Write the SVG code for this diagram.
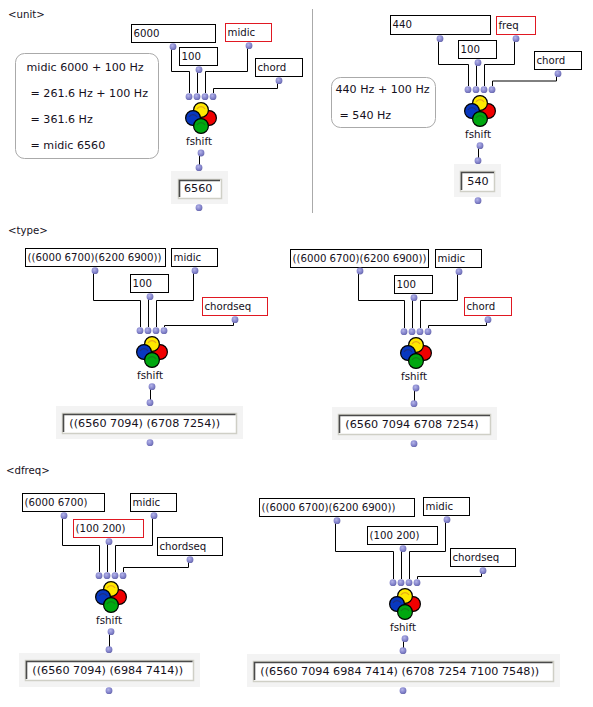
<svg xmlns="http://www.w3.org/2000/svg" width="593" height="707" viewBox="0 0 593 707">
<style>
text{font-family:"DejaVu Sans","Liberation Sans",sans-serif;fill:#15101c}
.t{font-size:10.2px}
.c{font-size:11.1px}
.o{font-size:11.2px}
.f{font-size:10.3px;text-anchor:middle}
.b{fill:#fff;stroke:#000;stroke-width:1}
.r{fill:#fff;stroke:#e01822;stroke-width:1}
.p{fill:#f3f3f3}
.io{fill:#fff;stroke:#cfcfc6;stroke-width:1.5}
.ii{fill:none;stroke:#4a4a4a;stroke-width:1.6}
.w{fill:none;stroke:#000;stroke-width:1}
.cm{fill:#fff;stroke:#aaa;stroke-width:1}
</style>
<defs>
<radialGradient id="dg" cx="0.4" cy="0.35" r="0.7"><stop offset="0" stop-color="#b4b4e8"/><stop offset="0.6" stop-color="#8484cc"/><stop offset="1" stop-color="#6464a8"/></radialGradient>
<g id="dot"><circle r="3.4" fill="url(#dg)"/></g>
<g id="icon" stroke="#000" stroke-width="1.2">
<circle cx="8" cy="0" r="7.4" fill="#f00000"/>
<circle cx="0" cy="-8" r="7.4" fill="#ffe800"/>
<path d="M-4-9a4.500 4.500 0 0 1 8 0" fill="none" stroke="#e8a818"/>
<circle cx="-8" cy="0" r="7.4" fill="#0838c0"/>
<path d="M-12-1a4.500 4.500 0 0 1 8 0" fill="none" stroke="#1c2f80"/>
<circle cx="0" cy="8" r="7.4" fill="#00a810"/>
<path d="M-4 7a4.500 4.500 0 0 1 8 0" fill="none" stroke="#108018"/>
</g>
</defs>
<rect width="593" height="707" fill="#fff"/>
<text class="t" x="8" y="17.5">&lt;unit&gt;</text>
<text class="t" x="8" y="234">&lt;type&gt;</text>
<text class="t" x="6" y="473.5">&lt;dfreq&gt;</text>
<line x1="312.5" y1="9" x2="312.5" y2="213" stroke="#aaa"/>

<g id="connectors">
<path class="w" d="M171.500 46V71.500H189.500V93M197.500 70V93M247.500 46V71.500H205.500V93M277.500 81V88.500H213.500V93M199.500 153V165"/>
<path class="w" d="M438.500 39V64.500H468.500V86M476.500 63V86M514.500 39V64.500H484.500V86M556.500 74V81H492.500V86M478.500 146V158"/>
<path class="w" d="M93.500 271V300.500H140.500V327M148.500 297V327M193.500 271V300.500H156.500V327M233.500 320V325.500H164.500V327M150.500 387V400"/>
<path class="w" d="M358.500 271V300.500H404.500V328M412.500 298V328M457.500 272V300.500H420.500V328M486.500 320V325.500H428.500V328M414.500 388V401"/>
<path class="w" d="M62.500 516V545.500H99.500V572M107.500 542V572M152.500 516V545.500H115.500V572M188.500 560V567.500H123.500V572M109.500 632V647"/>
<path class="w" d="M335.500 521V551.500H393.500V579M401.500 549V579M445.500 520V551.500H409.500V579M481.500 571V576.500H417.500V579M403.500 639V648"/>
</g>

<g id="comment-unit-midic">
<rect class="cm" x="15.500" y="53.500" width="143" height="105" rx="9"/>
<text class="c" x="26.500" y="71">midic 6000 + 100 Hz</text>
<text class="c" x="30.500" y="97">= 261.6 Hz + 100 Hz</text>
<text class="c" x="30.500" y="123">= 361.6 Hz</text>
<text class="c" x="30.500" y="149">= midic 6560</text>
</g>
<g id="comment-unit-freq">
<rect class="cm" x="331.500" y="77.500" width="104" height="50" rx="9"/>
<text class="c" x="335.500" y="93">440 Hz + 100 Hz</text>
<text class="c" x="339.500" y="119">= 540 Hz</text>
</g>

<g id="unit1-pitch"><rect class="b" x="131.500" y="24.500" width="84" height="18"/><text class="t" x="133.500" y="37">6000</text><use href="#dot" x="173" y="46.700"/></g>
<g id="unit1-dfreq"><rect class="b" x="179.500" y="47.500" width="38" height="18"/><text class="t" x="181.500" y="60">100</text><use href="#dot" x="199" y="69.700"/></g>
<g id="unit1-unit"><rect class="r" x="225.500" y="23.500" width="46" height="18"/><text class="t" x="227.500" y="36">midic</text><use href="#dot" x="249" y="45.700"/></g>
<g id="unit1-type"><rect class="b" x="255.500" y="58.500" width="47" height="18"/><text class="t" x="257.500" y="71">chord</text><use href="#dot" x="279" y="80.700"/></g>
<g id="unit1-fshift"><use href="#dot" x="189" y="96.700"/><use href="#dot" x="197" y="96.700"/><use href="#dot" x="205" y="96.700"/><use href="#dot" x="213" y="96.700"/><use href="#icon" x="201" y="118"/><text class="f" x="199" y="145">fshift</text><use href="#dot" x="201" y="153"/></g>
<g id="unit1-result"><use href="#dot" x="199" y="167.700"/><rect class="p" x="171" y="171" width="57" height="33"/><rect class="io" x="178.500" y="179.500" width="43" height="19"/><path class="ii" d="M179.500 197V180.500H220"/><text class="o" x="184" y="192">6560</text><use href="#dot" x="199" y="207.700"/></g>

<g id="unit2-pitch"><rect class="b" x="390.500" y="15.500" width="100" height="19"/><text class="t" x="392.500" y="28">440</text><use href="#dot" x="440" y="38.700"/></g>
<g id="unit2-dfreq"><rect class="b" x="458.500" y="40.500" width="38" height="18"/><text class="t" x="460.500" y="53">100</text><use href="#dot" x="478" y="62.700"/></g>
<g id="unit2-unit"><rect class="r" x="496.500" y="16.500" width="39" height="18"/><text class="t" x="498.500" y="29">freq</text><use href="#dot" x="516" y="38.700"/></g>
<g id="unit2-type"><rect class="b" x="534.500" y="51.500" width="47" height="18"/><text class="t" x="536.500" y="64">chord</text><use href="#dot" x="558" y="73.700"/></g>
<g id="unit2-fshift"><use href="#dot" x="468" y="89.700"/><use href="#dot" x="476" y="89.700"/><use href="#dot" x="484" y="89.700"/><use href="#dot" x="492" y="89.700"/><use href="#icon" x="480" y="111"/><text class="f" x="478" y="138">fshift</text><use href="#dot" x="480" y="145.700"/></g>
<g id="unit2-result"><use href="#dot" x="478" y="160.700"/><rect class="p" x="454" y="164" width="47" height="33"/><rect class="io" x="460.500" y="171.500" width="34" height="20"/><path class="ii" d="M461.500 190V172.500H494"/><text class="o" x="467.300" y="185">540</text><use href="#dot" x="478" y="200.700"/></g>

<g id="type1-pitch"><rect class="b" x="25.500" y="248.500" width="140" height="18"/><text class="t" x="27.500" y="261">((6000 6700)(6200 6900))</text><use href="#dot" x="95" y="270.700"/></g>
<g id="type1-dfreq"><rect class="b" x="130.500" y="274.500" width="38" height="18"/><text class="t" x="132.500" y="287">100</text><use href="#dot" x="150" y="296.700"/></g>
<g id="type1-unit"><rect class="b" x="171.500" y="248.500" width="46" height="18"/><text class="t" x="173.500" y="261">midic</text><use href="#dot" x="195" y="270.700"/></g>
<g id="type1-type"><rect class="r" x="202.500" y="297.500" width="65" height="18"/><text class="t" x="204.500" y="310">chordseq</text><use href="#dot" x="235" y="319.700"/></g>
<g id="type1-fshift"><use href="#dot" x="140" y="330.700"/><use href="#dot" x="148" y="330.700"/><use href="#dot" x="156" y="330.700"/><use href="#dot" x="164" y="330.700"/><use href="#icon" x="152" y="352"/><text class="f" x="150" y="379">fshift</text><use href="#dot" x="152" y="386.700"/></g>
<g id="type1-result"><use href="#dot" x="150" y="402.700"/><rect class="p" x="56" y="406" width="187" height="33"/><rect class="io" x="62.500" y="413.500" width="174" height="20"/><path class="ii" d="M63.500 432V414.500H235.500"/><text class="o" x="69.300" y="427.300">((6560 7094) (6708 7254))</text><use href="#dot" x="150" y="442.700"/></g>

<g id="type2-pitch"><rect class="b" x="290.500" y="249.500" width="138" height="18"/><text class="t" x="292.500" y="262">((6000 6700)(6200 6900))</text><use href="#dot" x="360" y="271"/></g>
<g id="type2-dfreq"><rect class="b" x="394.500" y="275.500" width="38" height="18"/><text class="t" x="396.500" y="288">100</text><use href="#dot" x="414" y="297.700"/></g>
<g id="type2-unit"><rect class="b" x="435.500" y="249.500" width="46" height="18"/><text class="t" x="437.500" y="262">midic</text><use href="#dot" x="459" y="271.700"/></g>
<g id="type2-type"><rect class="r" x="464.500" y="297.500" width="47" height="18"/><text class="t" x="466.500" y="310">chord</text><use href="#dot" x="488" y="319.700"/></g>
<g id="type2-fshift"><use href="#dot" x="404" y="331.700"/><use href="#dot" x="412" y="331.700"/><use href="#dot" x="420" y="331.700"/><use href="#dot" x="428" y="331.700"/><use href="#icon" x="416" y="353"/><text class="f" x="414" y="380">fshift</text><use href="#dot" x="416" y="388"/></g>
<g id="type2-result"><use href="#dot" x="414" y="403.700"/><rect class="p" x="332" y="407" width="165" height="33"/><rect class="io" x="338.500" y="414.500" width="152" height="20"/><path class="ii" d="M339.500 433V415.500H490"/><text class="o" x="345.300" y="428">(6560 7094 6708 7254)</text><use href="#dot" x="414" y="443.700"/></g>

<g id="dfreq1-pitch"><rect class="b" x="22.500" y="493.500" width="82" height="18"/><text class="t" x="24.500" y="506">(6000 6700)</text><use href="#dot" x="64" y="515.700"/></g>
<g id="dfreq1-dfreq"><rect class="r" x="73.500" y="519.500" width="70" height="18"/><text class="t" x="75.500" y="532">(100 200)</text><use href="#dot" x="109" y="541.700"/></g>
<g id="dfreq1-unit"><rect class="b" x="130.500" y="493.500" width="46" height="18"/><text class="t" x="132.500" y="506">midic</text><use href="#dot" x="154" y="515.700"/></g>
<g id="dfreq1-type"><rect class="b" x="157.500" y="537.500" width="65" height="18"/><text class="t" x="159.500" y="550">chordseq</text><use href="#dot" x="190" y="559.700"/></g>
<g id="dfreq1-fshift"><use href="#dot" x="99" y="575.700"/><use href="#dot" x="107" y="575.700"/><use href="#dot" x="115" y="575.700"/><use href="#dot" x="123" y="575.700"/><use href="#icon" x="111" y="597"/><text class="f" x="109" y="624">fshift</text><use href="#dot" x="111" y="631.700"/></g>
<g id="dfreq1-result"><use href="#dot" x="109" y="649.700"/><rect class="p" x="19" y="653" width="181" height="34"/><rect class="io" x="25.500" y="660.500" width="168" height="20"/><path class="ii" d="M26.500 679V661.500H192.500"/><text class="o" x="32.300" y="674">((6560 7094) (6984 7414))</text><use href="#dot" x="109" y="690.700"/></g>

<g id="dfreq2-pitch"><rect class="b" x="259.500" y="498.500" width="155" height="18"/><text class="t" x="261.500" y="511">((6000 6700)(6200 6900))</text><use href="#dot" x="337" y="520.700"/></g>
<g id="dfreq2-dfreq"><rect class="b" x="367.500" y="526.500" width="70" height="18"/><text class="t" x="369.500" y="539">(100 200)</text><use href="#dot" x="403" y="548.700"/></g>
<g id="dfreq2-unit"><rect class="b" x="423.500" y="497.500" width="46" height="18"/><text class="t" x="425.500" y="510">midic</text><use href="#dot" x="447" y="519.700"/></g>
<g id="dfreq2-type"><rect class="b" x="450.500" y="548.500" width="65" height="18"/><text class="t" x="452.500" y="561">chordseq</text><use href="#dot" x="483" y="570.700"/></g>
<g id="dfreq2-fshift"><use href="#dot" x="393" y="582.700"/><use href="#dot" x="401" y="582.700"/><use href="#dot" x="409" y="582.700"/><use href="#dot" x="417" y="582.700"/><use href="#icon" x="405" y="604"/><text class="f" x="403" y="631">fshift</text><use href="#dot" x="405" y="638.700"/></g>
<g id="dfreq2-result"><use href="#dot" x="403" y="650.700"/><rect class="p" x="247" y="654" width="313" height="33"/><rect class="io" x="253.500" y="661.500" width="300" height="20"/><path class="ii" d="M254.500 680V662.500H552.500"/><text class="o" x="260.300" y="675">((6560 7094 6984 7414) (6708 7254 7100 7548))</text><use href="#dot" x="403" y="690.700"/></g>
</svg>
